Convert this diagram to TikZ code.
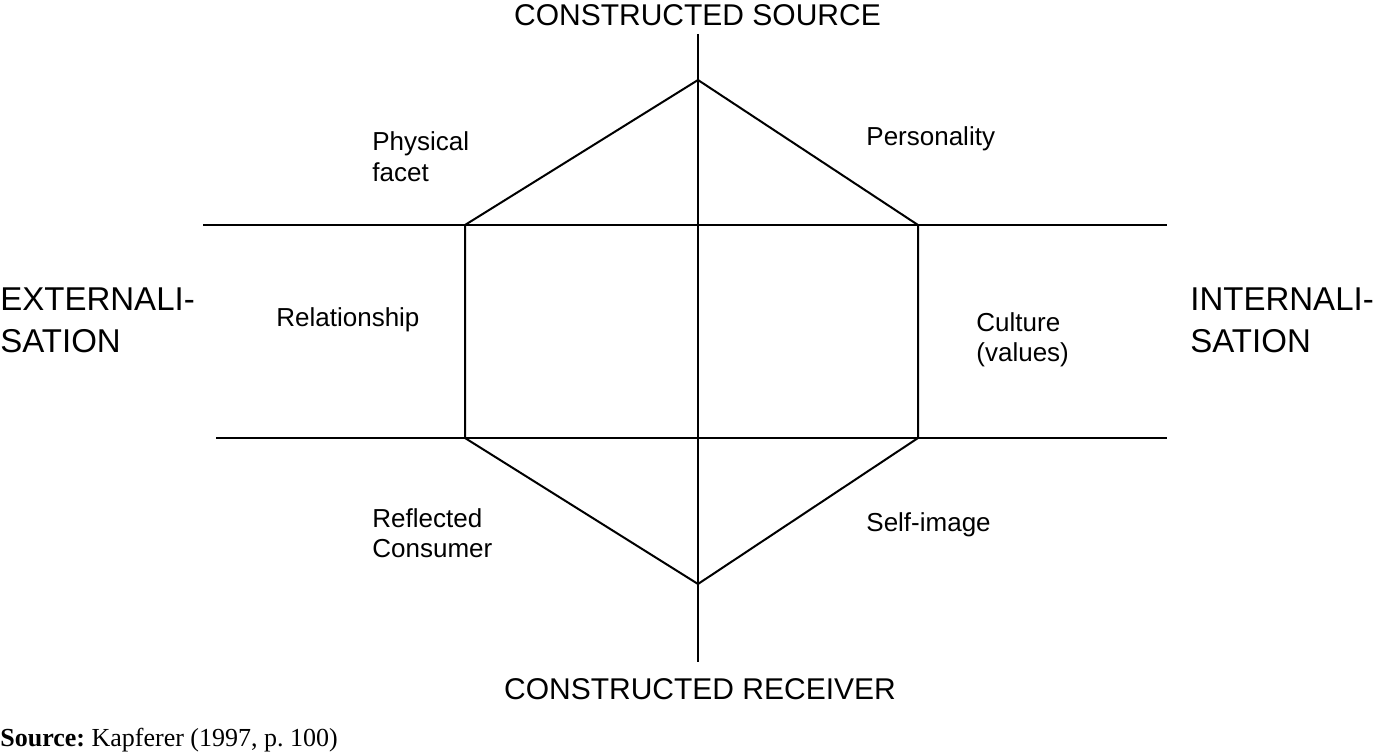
\documentclass[tikz,border=0pt]{standalone}
\usepackage{fontspec}
\setmainfont{Liberation Serif}
\setsansfont{Liberation Sans}
\frenchspacing
\begin{document}
\begin{tikzpicture}[x=0.5pt,y=-0.5pt,
  axis/.style={line width=1pt,black,line cap=butt},
  big/.style={font=\sffamily\fontsize{15}{18}\selectfont, inner sep=0pt},
  side/.style={font=\sffamily\fontsize{16.5}{21}\selectfont, inner sep=0pt, anchor=base west},
  facetlbl/.style={font=\sffamily\fontsize{13}{15}\selectfont, inner sep=0pt, anchor=base west},
  srclbl/.style={font=\rmfamily\fontsize{13}{15}\selectfont\frenchspacing, inner sep=0pt, anchor=base west}]
\useasboundingbox (0,0) rectangle (1375,754);
% named points
\coordinate (vtop) at (698,34);
\coordinate (vbot) at (698,662);
\coordinate (T) at (698,80);
\coordinate (B) at (698,584);
\coordinate (TL) at (465,225);
\coordinate (TR) at (918,225);
\coordinate (BL) at (465,438);
\coordinate (BR) at (918,438);
\coordinate (h1l) at (203,225);
\coordinate (h1r) at (1167,225);
\coordinate (h2l) at (216,438);
\coordinate (h2r) at (1167,438);
% axes
\draw[axis] (vtop) -- (vbot);
\draw[axis] (h1l) -- (h1r);
\draw[axis] (h2l) -- (h2r);
% hexagon
\draw[axis,line join=miter] (T) -- (TR) -- (BR) -- (B) -- (BL) -- (TL) -- cycle;
% axis titles
\node[big,anchor=base] (src) at (697.5,26) {CONSTRUCTED SOURCE};
\node[big,anchor=base] (rcv) at (700,699) {CONSTRUCTED RECEIVER};
\node[side] (ext1) at (0,310) {EXTERNALI-};
\node[side] (ext2) at (0,352) {SATION};
\node[side] (int1) at (1190,310) {INTERNALI-};
\node[side] (int2) at (1190,352) {SATION};
% facets
\node[facetlbl] (phys1) at (372,151) {Physical};
\node[facetlbl] (phys2) at (372,182) {facet};
\node[facetlbl] (pers) at (866,146) {Personality};
\node[facetlbl] (rel) at (276,326) {Relationship};
\node[facetlbl] (cul1) at (976,331) {Culture};
\node[facetlbl] (cul2) at (976,361) {(values)};
\node[facetlbl] (refl1) at (372,527) {Reflected};
\node[facetlbl] (refl2) at (372,557) {Consumer};
\node[facetlbl] (self) at (866,531) {Self-image};
% source
\node[srclbl] (source) at (0,746) {\textbf{Source:} Kapferer (1997, p. 100)};
\end{tikzpicture}
\end{document}
